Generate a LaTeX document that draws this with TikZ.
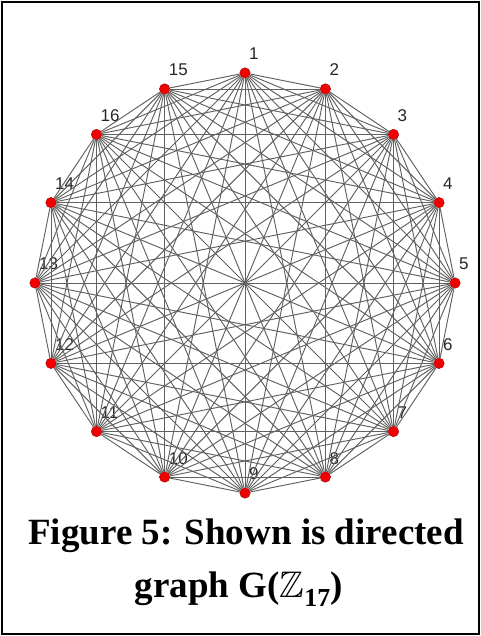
\documentclass[tikz,border=0pt]{standalone}
\usepackage{amsmath,amssymb}
\usepackage{fontspec}
\setmainfont{Liberation Serif}
\newfontfamily\lblfont{Liberation Sans}
\usepackage{tikz}

\begin{document}
\begin{tikzpicture}[x=1pt,y=1pt,
    vtx/.style={circle,fill=red!95!black,draw=red!60!black,line width=0.4pt,inner sep=0pt,minimum size=10.5pt},
    edge/.style={draw=black!62,line width=0.95pt},
    lbl/.style={font=\lblfont\fontsize{17}{17}\selectfont,text=black!85,inner sep=0pt,anchor=base west}]
    \useasboundingbox (0,0) rectangle (481,636);
    \draw[line width=2pt] (2,2) rectangle (479,634);

    % 16 points round the circle, clockwise from the top
    \foreach \lab [count=\i from 0] in {1,2,3,4,5,6,7,8,9,10,11,12,13,14,16,15} {
        \node[vtx] (v\i) at ({245+210*sin(22.5*\i)},{353+210*cos(22.5*\i)}) {};
        \node[lbl] (l\i) at ([shift={(4,13)}]v\i.center) {\lab};
    }

    % every pair joined
    \foreach \i in {0,...,14} {
        \pgfmathtruncatemacro\nxt{\i+1}
        \foreach \j in {\nxt,...,15}
            \draw[edge] (v\i) -- (v\j);
    }

    \node[font=\bfseries\fontsize{37}{53}\selectfont,anchor=base] (cap1) at (246,91) {Figure 5: Shown is directed};
    \node[font=\bfseries\fontsize{37}{53}\selectfont,anchor=base] (cap2) at (239,38) {graph G($\mathbb{Z}_{\textbf{17}}$)};
\end{tikzpicture}
\end{document}
